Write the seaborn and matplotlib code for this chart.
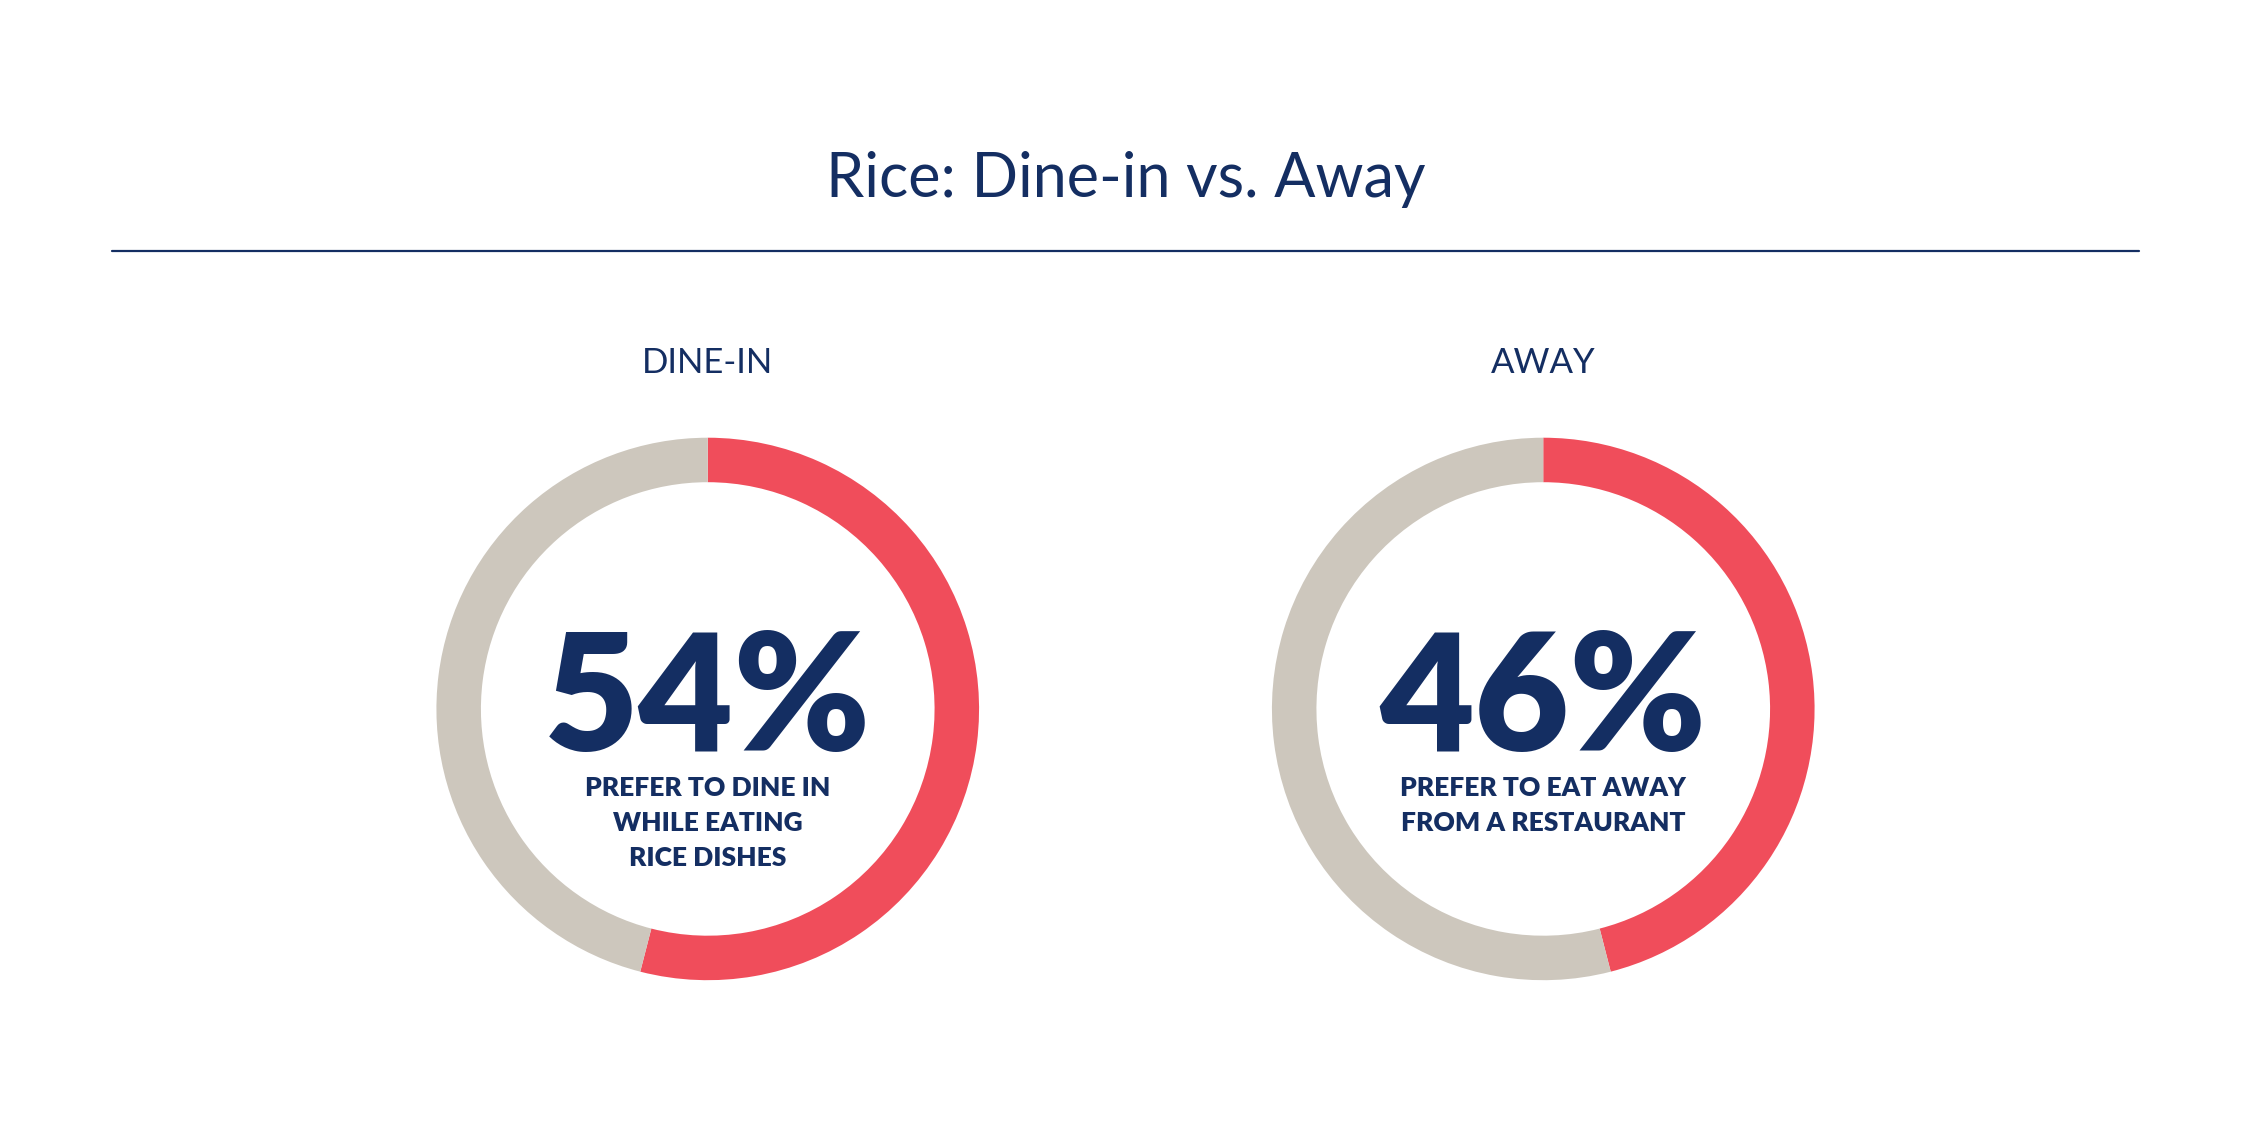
import matplotlib
matplotlib.use("Agg")
import matplotlib.pyplot as plt
import seaborn as sns

# Chart data
groups = ["DINE-IN", "AWAY"]
shares = [54, 46]
captions = ["PREFER TO DINE IN\nWHILE EATING\nRICE DISHES",
            "PREFER TO EAT AWAY\nFROM A RESTAURANT"]
title = "Rice: Dine-in vs. Away"

sns.set_style("white")
plt.rcParams["font.family"] = ["Lato", "DejaVu Sans"]

NAVY = "#142e62"
RED = "#f04d5b"
GRAY = "#cdc7bd"

fig = plt.figure(figsize=(22.51, 11.28), dpi=100)
fig.patch.set_facecolor("white")

W, H = 1568, 786  # reference layout coordinates
fig.text(0.5, 1 - 125 / H, title, ha="center", va="center",
         fontsize=44, color=NAVY, fontweight="normal")
fig.add_artist(plt.Line2D([78 / W, 1490 / W], [1 - 175 / H] * 2,
                          color=NAVY, lw=1.6))

centers_x = [493, 1075]
cy = 494
r = 189
for cx, name, val, cap in zip(centers_x, groups, shares, captions):
    ax = fig.add_axes([(cx - r) / W, 1 - (cy + r) / H, 2 * r / W, 2 * r / H])
    ax.pie([val, 100 - val], colors=[RED, GRAY], startangle=90,
           counterclock=False, radius=1,
           wedgeprops=dict(width=31 / 189, linewidth=0))
    ax.set_xlim(-1, 1)
    ax.set_ylim(-1, 1)
    ax.set_aspect("auto")
    ax.axis("off")
    fig.text(cx / W, 1 - 253 / H, name, ha="center", va="center",
             fontsize=25, color=NAVY)
    fig.text(cx / W, 1 - 490 / H, f"{val}%", ha="center", va="center",
             fontsize=118, color=NAVY, fontweight="heavy")
    fig.text(cx / W, 1 - 541 / H, cap, ha="center", va="top",
             fontsize=19, color=NAVY, fontweight="heavy", linespacing=1.55)

fig.savefig("out.png", dpi=100, facecolor="white")
